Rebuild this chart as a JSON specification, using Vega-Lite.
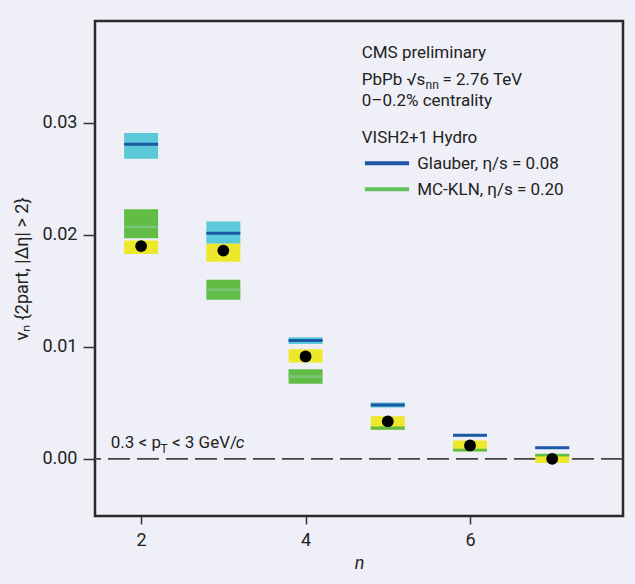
{
  "$schema": "https://vega.github.io/schema/vega-lite/v6.json",
  "width": 528,
  "height": 495,
  "autosize": {"type": "none"},
  "padding": {"left": 95, "top": 21, "right": 12, "bottom": 68},
  "background": "#eff0f7",
  "config": {
    "view": {"stroke": "#2a2a2a", "strokeWidth": 2.5, "fill": null},
    "axis": {"grid": false, "domain": false, "labelFont": "Roboto", "labelFontSize": 18, "labelColor": "#222", "tickColor": "#333", "tickWidth": 1.5, "titleFont": "Roboto", "titleFontSize": 18, "titleFontWeight": "normal", "titleColor": "#222"}
  },
  "datasets": {
    "exp": [
      {"n": 2, "v": 0.0190, "lo": 0.0183, "hi": 0.0195},
      {"n": 3, "v": 0.0186, "lo": 0.0176, "hi": 0.0192},
      {"n": 4, "v": 0.00914, "lo": 0.0086, "hi": 0.0098},
      {"n": 5, "v": 0.00335, "lo": 0.0026, "hi": 0.0038},
      {"n": 6, "v": 0.0012, "lo": 0.00067, "hi": 0.00165},
      {"n": 7, "v": 0.0000, "lo": -0.00037, "hi": 0.0004}
    ],
    "model": [
      {"n": 2, "model": "Glauber, η/s = 0.08", "v": 0.0281, "lo": 0.0268, "hi": 0.0291},
      {"n": 3, "model": "Glauber, η/s = 0.08", "v": 0.02015, "lo": 0.0192, "hi": 0.0212},
      {"n": 4, "model": "Glauber, η/s = 0.08", "v": 0.01057, "lo": 0.01025, "hi": 0.01087},
      {"n": 5, "model": "Glauber, η/s = 0.08", "v": 0.00481, "lo": 0.00459, "hi": 0.00504},
      {"n": 6, "model": "Glauber, η/s = 0.08", "v": 0.0021, "lo": 0.0020, "hi": 0.0022},
      {"n": 7, "model": "Glauber, η/s = 0.08", "v": 0.0010, "lo": 0.0009, "hi": 0.00108},
      {"n": 2, "model": "MC-KLN, η/s = 0.20", "v": 0.0207, "lo": 0.0197, "hi": 0.0223},
      {"n": 3, "model": "MC-KLN, η/s = 0.20", "v": 0.0151, "lo": 0.0142, "hi": 0.0160},
      {"n": 4, "model": "MC-KLN, η/s = 0.20", "v": 0.00736, "lo": 0.0067, "hi": 0.0080},
      {"n": 5, "model": "MC-KLN, η/s = 0.20", "v": 0.00275, "lo": 0.0026, "hi": 0.0029},
      {"n": 6, "model": "MC-KLN, η/s = 0.20", "v": 0.00078, "lo": 0.00067, "hi": 0.0009},
      {"n": 7, "model": "MC-KLN, η/s = 0.20", "v": 0.00034, "lo": 0.00022, "hi": 0.00046}
    ],
    "legend": [
      {"model": "Glauber, η/s = 0.08", "x": 4.722, "x2": 5.259, "y": 0.0264, "lx": 5.358, "ly": 0.02586},
      {"model": "MC-KLN, η/s = 0.20", "x": 4.722, "x2": 5.259, "y": 0.02407, "lx": 5.358, "ly": 0.02356}
    ],
    "notes": [
      {"text": "CMS preliminary", "x": 4.683, "y": 0.03577},
      {"text": "PbPb √s", "x": 4.683, "y": 0.03339},
      {"text": "= 2.76 TeV", "x": 5.665, "y": 0.03339},
      {"text": "0–0.2% centrality", "x": 4.683, "y": 0.03151},
      {"text": "VISH2+1 Hydro", "x": 4.683, "y": 0.02818},
      {"text": "0.3 < p", "x": 1.631, "y": 0.000946},
      {"text": "< 3 GeV/", "x": 2.375, "y": 0.000946}
    ],
    "subs": [
      {"text": "nn", "x": 5.46, "y": 0.03307},
      {"text": "T", "x": 2.236, "y": 0.00053}
    ],
    "italic": [
      {"text": "c", "x": 3.152, "y": 0.000946}
    ]
  },
  "encoding": {
    "x": {"field": "n", "type": "quantitative", "scale": {"domain": [1.5, 7.8], "nice": false, "zero": false},
      "axis": {"values": [2, 4, 6], "tickSize": 8, "labelPadding": 7, "title": "n", "titleFontStyle": "italic", "titlePadding": 5}},
    "y": {"field": "v", "type": "quantitative", "scale": {"domain": [-0.0051, 0.0391], "nice": false, "zero": false},
      "axis": {"values": [0, 0.01, 0.02, 0.03], "format": ".2f", "tickSize": 12, "labelPadding": 6, "title": "vₙ {2part, |Δη| > 2}", "titlePadding": 10}}
  },
  "layer": [
    {
      "data": {"values": [{"zero": 0}]},
      "mark": {"type": "rule", "color": "#444", "strokeWidth": 1.6, "strokeDash": [22, 7]},
      "encoding": {"x": null, "y": {"field": "zero", "type": "quantitative"}}
    },
    {
      "data": {"name": "model"},
      "transform": [{"filter": "datum.model === 'Glauber, η/s = 0.08'"}],
      "mark": {"type": "bar", "size": 34, "color": "#5bc9d8"},
      "encoding": {"y": {"field": "lo", "type": "quantitative"}, "y2": {"field": "hi"}}
    },
    {
      "data": {"name": "exp"},
      "mark": {"type": "bar", "size": 34, "color": "#eee82c"},
      "encoding": {"y": {"field": "lo", "type": "quantitative"}, "y2": {"field": "hi"}}
    },
    {
      "data": {"name": "model"},
      "transform": [{"filter": "datum.model === 'MC-KLN, η/s = 0.20'"}],
      "mark": {"type": "bar", "size": 34, "color": "#62bd46"},
      "encoding": {"y": {"field": "lo", "type": "quantitative"}, "y2": {"field": "hi"}}
    },
    {
      "data": {"name": "model"},
      "transform": [{"filter": "datum.model === 'Glauber, η/s = 0.08'"}],
      "mark": {"type": "tick", "orient": "horizontal", "size": 34, "thickness": 3, "color": "#1c58a6", "opacity": 1},
      "encoding": {}
    },
    {
      "data": {"name": "model"},
      "transform": [{"filter": "datum.model === 'MC-KLN, η/s = 0.20' && datum.n <= 4"}],
      "mark": {"type": "tick", "orient": "horizontal", "size": 34, "thickness": 2.5, "color": "#7cc47a", "opacity": 1},
      "encoding": {}
    },
    {
      "data": {"name": "exp"},
      "mark": {"type": "circle", "size": 140, "color": "#000", "opacity": 1},
      "encoding": {}
    },
    {
      "data": {"name": "legend"},
      "mark": {"type": "rule", "strokeWidth": 4},
      "encoding": {
        "x": {"field": "x", "type": "quantitative"},
        "x2": {"field": "x2"},
        "y": {"field": "y", "type": "quantitative"},
        "color": {"field": "model", "type": "nominal", "scale": {"domain": ["Glauber, η/s = 0.08", "MC-KLN, η/s = 0.20"], "range": ["#1c58a6", "#63c05c"]}, "legend": null}
      }
    },
    {
      "data": {"name": "legend"},
      "mark": {"type": "text", "align": "left", "baseline": "alphabetic", "font": "Roboto", "fontSize": 17, "color": "#222"},
      "encoding": {
        "x": {"field": "lx", "type": "quantitative"},
        "y": {"field": "ly", "type": "quantitative"},
        "text": {"field": "model"}
      }
    },
    {
      "data": {"name": "notes"},
      "mark": {"type": "text", "align": "left", "baseline": "alphabetic", "font": "Roboto", "fontSize": 17, "color": "#222"},
      "encoding": {
        "x": {"field": "x", "type": "quantitative"},
        "y": {"field": "y", "type": "quantitative"},
        "text": {"field": "text"}
      }
    },
    {
      "data": {"name": "subs"},
      "mark": {"type": "text", "align": "left", "baseline": "alphabetic", "font": "Roboto", "fontSize": 12, "color": "#222"},
      "encoding": {
        "x": {"field": "x", "type": "quantitative"},
        "y": {"field": "y", "type": "quantitative"},
        "text": {"field": "text"}
      }
    },
    {
      "data": {"name": "italic"},
      "mark": {"type": "text", "align": "left", "baseline": "alphabetic", "font": "Roboto", "fontSize": 17, "fontStyle": "italic", "color": "#222"},
      "encoding": {
        "x": {"field": "x", "type": "quantitative"},
        "y": {"field": "y", "type": "quantitative"},
        "text": {"field": "text"}
      }
    }
  ]
}
